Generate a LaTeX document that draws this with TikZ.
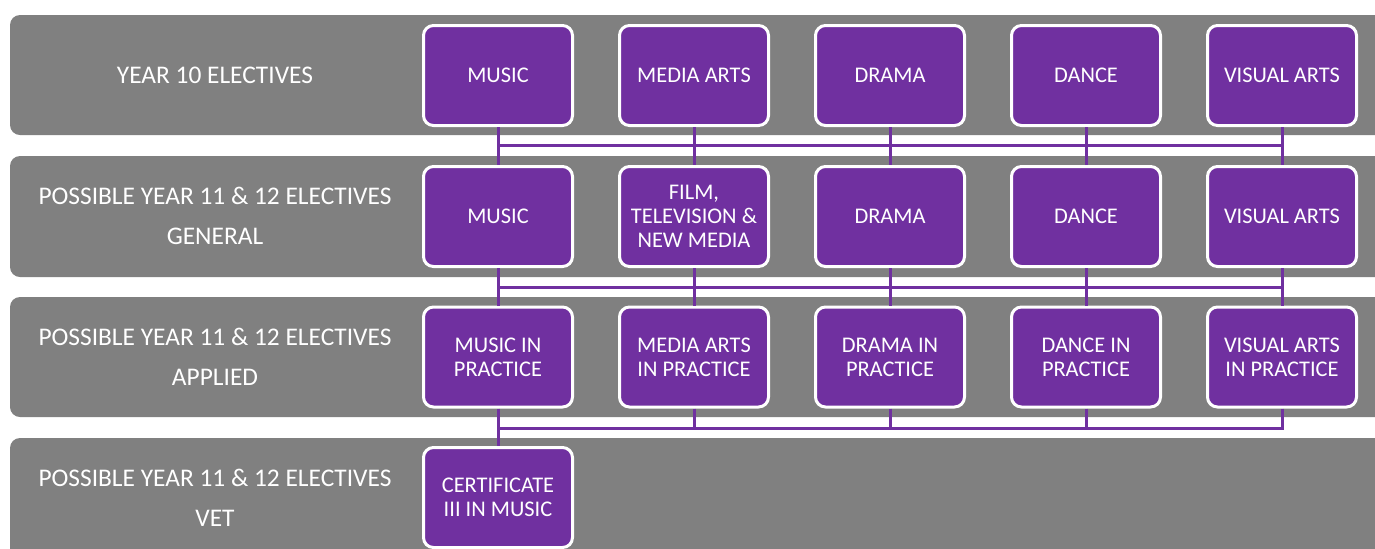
\documentclass[tikz,border=0pt]{standalone}
\usepackage{fontspec}
\setmainfont{Carlito}
\definecolor{bandgrey}{HTML}{808080}
\definecolor{artpurple}{HTML}{7030A0}
\tikzset{
    band/.style = {fill=bandgrey, rounded corners=5pt},
    subj/.style = {draw=white, line width=1.5pt, fill=artpurple, rounded corners=5pt,
        minimum width=74.5pt, minimum height=50pt, inner sep=1pt,
        text=white, align=center, font=\fontsize{11.2}{12}\selectfont},
    rowlab/.style = {text=white, align=center, font=\fontsize{12.7}{20}\selectfont},
    link/.style = {draw=artpurple, line width=1.5pt}
}

\begin{document}
\begin{tikzpicture}[x=0.5pt, y=-0.5pt]
                \useasboundingbox (0,0) rectangle (1375,548);
                \clip (0,0) rectangle (1375,548);
                % grey bands
                \fill[band] (10,15) rectangle (1400,135);
                \fill[band] (10,156) rectangle (1400,277);
                \fill[band] (10,297) rectangle (1400,417);
                \fill[band] (10,438) rectangle (1400,600);
                \node[rowlab] (lab1) at (215,75) {YEAR 10 ELECTIVES};
                \node[rowlab] (lab2) at (215,216) {POSSIBLE YEAR 11 \& 12 ELECTIVES\\GENERAL};
                \node[rowlab] (lab3) at (215,357) {POSSIBLE YEAR 11 \& 12 ELECTIVES\\APPLIED};
                \node[rowlab] (lab4) at (215,498) {POSSIBLE YEAR 11 \& 12 ELECTIVES\\VET};
                % year 10
                \node[subj] (mus1) at (498,75.5) {MUSIC};
                \node[subj] (med1) at (694,75.5) {MEDIA ARTS};
                \node[subj] (dra1) at (890,75.5) {DRAMA};
                \node[subj] (dan1) at (1086,75.5) {DANCE};
                \node[subj] (vis1) at (1282,75.5) {VISUAL ARTS};
                % general
                \node[subj] (mus2) at (498,216.5) {MUSIC};
                \node[subj] (film2) at (694,216.5) {FILM,\\TELEVISION \&\\NEW MEDIA};
                \node[subj] (dra2) at (890,216.5) {DRAMA};
                \node[subj] (dan2) at (1086,216.5) {DANCE};
                \node[subj] (vis2) at (1282,216.5) {VISUAL ARTS};
                % applied
                \node[subj] (mus3) at (498,357) {MUSIC IN\\PRACTICE};
                \node[subj] (med3) at (694,357) {MEDIA ARTS\\IN PRACTICE};
                \node[subj] (dra3) at (890,357) {DRAMA IN\\PRACTICE};
                \node[subj] (dan3) at (1086,357) {DANCE IN\\PRACTICE};
                \node[subj] (vis3) at (1282,357) {VISUAL ARTS\\IN PRACTICE};
                % vet
                \node[subj] (cert4) at (498,497.5) {CERTIFICATE\\III IN MUSIC};
                % connectors
                \coordinate (h1) at (0,145);
                \coordinate (h2) at (0,287);
                \coordinate (h3) at (0,428);
                \draw[link] (mus1.south) -- (mus2.north);
                \draw[link] (med1.south) -- (film2.north);
                \draw[link] (dra1.south) -- (dra2.north);
                \draw[link] (dan1.south) -- (dan2.north);
                \draw[link] (vis1.south) -- (vis2.north);
                \draw[link] (mus1.south |- h1) -- (vis1.south |- h1);
                \draw[link] (mus2.south) -- (mus3.north);
                \draw[link] (film2.south) -- (med3.north);
                \draw[link] (dra2.south) -- (dra3.north);
                \draw[link] (dan2.south) -- (dan3.north);
                \draw[link] (vis2.south) -- (vis3.north);
                \draw[link] (mus2.south |- h2) -- (vis2.south |- h2);
                \draw[link] (mus3.south) -- (cert4.north);
                \draw[link] (med3.south) -- (med3.south |- h3);
                \draw[link] (dra3.south) -- (dra3.south |- h3);
                \draw[link] (dan3.south) -- (dan3.south |- h3);
                \draw[link] (vis3.south) |- (mus3.south |- h3);
            \end{tikzpicture}
\end{document}
